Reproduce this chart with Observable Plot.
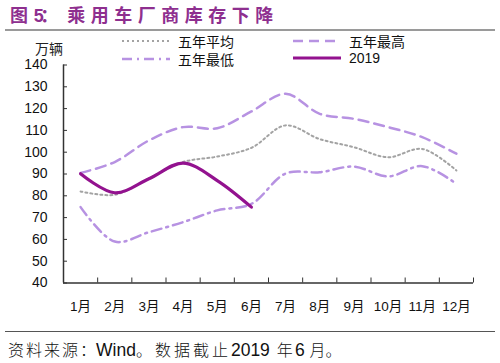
<!DOCTYPE html>
<html><head><meta charset="utf-8">
<script src="https://cdn.jsdelivr.net/npm/d3@7"></script>
<script src="https://cdn.jsdelivr.net/npm/@observablehq/plot@0.6"></script>
<style>
body{margin:0;background:#fff;}
#wrap{position:relative;width:500px;height:363px;overflow:hidden;font-family:"Liberation Sans","Noto Sans CJK SC",sans-serif;}
#title{position:absolute;left:10px;top:1px;font-size:18px;font-weight:bold;color:#8E2F8F;letter-spacing:5.5px;white-space:nowrap;}
#tline{position:absolute;left:5px;top:29px;width:490px;height:2px;background:#9a9a9a;}
#chart{position:absolute;left:0;top:30px;}
#unit{position:absolute;left:35px;top:38px;font-size:14px;color:#222;}
.lg{position:absolute;font-size:14px;color:#111;display:flex;align-items:center;white-space:nowrap;}
.lg svg{margin-right:8px;}
#bline{position:absolute;left:5px;top:331px;width:490px;height:1px;background:#555;}
#cap{position:absolute;left:8px;top:337px;color:#111;white-space:nowrap;}
#cap .c{font-size:16px;letter-spacing:3px;font-family:"Noto Sans CJK SC",sans-serif;font-weight:300;}
#cap .l{font-size:17.5px;font-family:"Liberation Sans",sans-serif;}
#cap .s{display:inline-block;}
</style></head>
<body><div id="wrap">
<div id="title">图<span style="font-size:1px;letter-spacing:0"> </span><span style="letter-spacing:-3.5px">5</span><span style="letter-spacing:9px">：</span>乘用车厂商库存下降</div>
<div id="tline"></div>
<div id="chart"></div>
<div id="unit">万辆</div>
<div id="legend"></div>
<div id="bline"></div>
<div id="cap"><span class="c" style="letter-spacing:2px">资料来源</span><span class="c" style="letter-spacing:0">：</span><span class="l">Wind</span><span class="c">。数据截止</span><span class="s" style="width:0px"> </span><span class="l">2019</span><span class="s" style="width:7px"> </span><span class="c" style="letter-spacing:2px">年</span><span class="s" style="width:0px"> </span><span class="l">6</span><span class="s" style="width:5px"> </span><span class="c" style="letter-spacing:0">月。</span></div>
</div>
<script>
const months = ["1月","2月","3月","4月","5月","6月","7月","8月","9月","10月","11月","12月"];
const avg5  = [82, 80.5, 88, 95.5, 98, 102, 112.3, 106, 102.3, 97.7, 101.5, 91.6];
const max5  = [90.5, 95.5, 105.4, 111.5, 111, 118.7, 126.8, 117.6, 115.3, 111.5, 106.9, 99.3];
const min5  = [74.8, 59, 63.3, 67.9, 73.3, 76.3, 90.2, 90.8, 93.4, 88.9, 93.6, 85.5];
const y2019 = [90.1, 81.4, 87.8, 95, 87, 74.8];
const yTicks = [40,50,60,70,80,90,100,110,120,130,140];

const seriesDefs = [
  {name:"五年平均", values:avg5, stroke:"#a3a3a3", width:2, dash:"2,3"},
  {name:"五年最高", values:max5, stroke:"#B792E2", width:2.5, dash:"10,6"},
  {name:"五年最低", values:min5, stroke:"#B792E2", width:2.5, dash:"10,5,2,5"},
  {name:"2019", values:y2019, stroke:"#93128F", width:3.2, dash:null}
];
const rows = s => s.values.map((v,i)=>({m:i+1, v}));
const bounds = d3.range(0.5, 13, 1);
const yMin = 40, xMin = 0.5;

const plot = Plot.plot({
  width: 500, height: 301,
  marginLeft: 63, marginRight: 27, marginTop: 34.5, marginBottom: 48.5,
  style: {fontFamily: "'Liberation Sans','Noto Sans CJK SC',sans-serif", color:"#111", background:"transparent"},
  x: {type:"linear", domain:[0.5,12.5], axis:null},
  y: {domain:[40,140], axis:null},
  marks: [
    Plot.axisY({ticks: yTicks, tickSize: 0, tickPadding: 16, fontSize: 14, label:null}),
    Plot.axisX({ticks: d3.range(1,13), tickSize: 0, tickPadding: 18, fontSize: 13.5, tickFormat: d => months[d-1], label:null}),
    Plot.ruleX(bounds, {x: d => d, y1: yMin, y2: yMin, insetTop: -5, stroke:"#333", strokeWidth:1}),
    Plot.ruleY(yTicks, {y: d => d, x1: xMin, x2: xMin, insetRight: -4, stroke:"#333", strokeWidth:1}),
    Plot.ruleY([yMin], {stroke:"#333", strokeWidth:1.5}),
    Plot.ruleX([xMin], {stroke:"#333", strokeWidth:1.5}),
    ...seriesDefs.map(s => Plot.line(rows(s), {x:"m", y:"v", curve:"catmull-rom", stroke:s.stroke, strokeWidth:s.width, strokeDasharray:s.dash}))
  ]
});
document.getElementById("chart").appendChild(plot);

const legPos = [[122,31],[293,31],[122,49],[293,49]];
const leg = document.getElementById("legend");
seriesDefs.forEach((s,i)=>{
  const d = document.createElement("div");
  d.className = "lg";
  d.style.left = legPos[i][0]+"px"; d.style.top = legPos[i][1]+"px";
  d.innerHTML = `<svg width="48" height="18"><line x1="0" x2="48" y1="9" y2="9" stroke="${s.stroke}" stroke-width="${s.width}" ${s.dash?`stroke-dasharray="${s.dash}"`:""}/></svg><span>${s.name}</span>`;
  leg.appendChild(d);
});
</script>
</body></html>
